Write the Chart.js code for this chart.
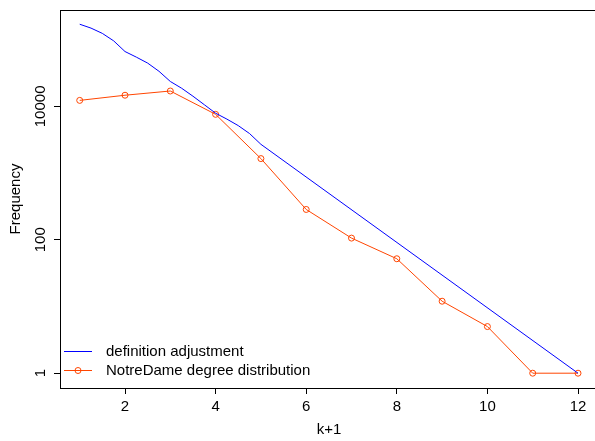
<!DOCTYPE html>
<html>
<head>
<meta charset="utf-8">
<script src="https://cdn.jsdelivr.net/npm/chart.js@4"></script>
<style>
  html, body { margin: 0; padding: 0; background: #fff; overflow: hidden; }
  canvas { display: block; }
</style>
</head>
<body>
<canvas id="chart" width="595" height="441"></canvas>
<script>
// degree distribution
const kValues = [1, 2, 3, 4, 5, 6, 7, 8, 9, 10, 11, 12]
const notreDame = [12300, 14700, 17000, 7600, 1650, 285, 106, 52, 12, 5, 1, 1]

// "definition adjustment" curve
const adjustK = [1, 1.25, 1.5, 1.75, 2, 2.25, 2.5, 2.75, 3, 3.25, 3.5, 3.75, 4, 4.25, 4.5, 4.75, 5, 12]
const adjustFreq = [170500, 149100, 124200, 96000, 66400, 54750, 44550, 33600, 23640, 18710, 14210, 10600, 7900, 6440, 5150, 3910, 2700, 1]

const xTicks = [2, 4, 6, 8, 10, 12]
const yTicks = [1, 100, 10000]

const FONT = '"Liberation Sans", Arial, Helvetica, sans-serif'

const framePlugin = {
    id: 'frame',
    afterDraw(chart) {
        const ctx = chart.ctx
        const a = chart.chartArea
        const y = chart.scales.y
        ctx.save()
        ctx.strokeStyle = '#000'
        ctx.lineWidth = 1
        ctx.strokeRect(a.left + 0.5, a.top + 0.5, a.right - a.left + 3, a.bottom - a.top)

        ctx.fillStyle = '#000'
        ctx.font = '15px ' + FONT
        ctx.textAlign = 'center'
        ctx.textBaseline = 'middle'
        // y tick labels, rotated like R
        yTicks.forEach(v => {
            const py = y.getPixelForValue(v)
            ctx.save()
            ctx.translate(a.left - 19, py)
            ctx.rotate(-Math.PI / 2)
            ctx.fillText(String(v), 0, 0)
            ctx.restore()
        })
        // axis titles
        ctx.fillText('k+1', 329, 430)
        ctx.save()
        ctx.translate(16, (a.top + a.bottom) / 2)
        ctx.rotate(-Math.PI / 2)
        ctx.fillText('Frequency', 0, 0)
        ctx.restore()

        // legend, bottom left, no box
        const rows = [
            { label: 'definition adjustment', ds: chart.data.datasets[0], marker: false },
            { label: 'NotreDame degree distribution', ds: chart.data.datasets[1], marker: true }
        ]
        ctx.textAlign = 'left'
        rows.forEach((r, i) => {
            const ly = a.bottom - 37 + i * 19
            ctx.strokeStyle = r.ds.borderColor
            ctx.beginPath()
            ctx.moveTo(a.left + 4, ly + 0.5)
            ctx.lineTo(a.left + 32, ly + 0.5)
            ctx.stroke()
            if (r.marker) {
                ctx.beginPath()
                ctx.arc(a.left + 18, ly + 0.5, 3, 0, Math.PI * 2)
                ctx.stroke()
            }
            ctx.fillStyle = '#000'
            ctx.fillText(r.label, a.left + 46, ly + 1)
        })
        ctx.restore()
    }
}

new Chart(document.getElementById('chart'), {
    type: 'line',
    data: {
        datasets: [
            {
                label: 'definition adjustment',
                data: adjustK.map((k, i) => ({ x: k, y: adjustFreq[i] })),
                borderColor: '#0000ff',
                borderWidth: 1,
                pointRadius: 0,
                tension: 0
            },
            {
                label: 'NotreDame degree distribution',
                data: kValues.map((k, i) => ({ x: k, y: notreDame[i] })),
                borderColor: '#ff4500',
                borderWidth: 1,
                pointRadius: 3,
                pointBorderWidth: 1,
                pointBorderColor: '#ff4500',
                pointBackgroundColor: 'rgba(0,0,0,0)',
                tension: 0
            }
        ]
    },
    options: {
        responsive: false,
        animation: false,
        layout: { autoPadding: false, padding: { top: 10, right: 0, left: 0, bottom: 0 } },
        plugins: { legend: { display: false }, tooltip: { enabled: false } },
        scales: {
            x: {
                type: 'linear',
                min: 0.565,
                max: 12.375,
                afterBuildTicks: s => { s.ticks = xTicks.map(v => ({ value: v })) },
                afterFit: s => { s.height = 53; s.paddingLeft = 0; s.paddingRight = 0 },
                border: { display: false },
                grid: { drawOnChartArea: false, drawTicks: true, tickLength: 6, tickColor: '#000' },
                ticks: { color: '#000', font: { size: 15, family: FONT }, padding: 4, maxRotation: 0 }
            },
            y: {
                type: 'logarithmic',
                min: 0.624,
                max: 278600,
                afterBuildTicks: s => { s.ticks = yTicks.map(v => ({ value: v })) },
                afterFit: s => { s.width = 60; s.paddingTop = 0; s.paddingBottom = 0 },
                border: { display: false },
                grid: { drawOnChartArea: false, drawTicks: true, tickLength: 6, tickColor: '#000' },
                ticks: { color: 'rgba(0,0,0,0)', font: { size: 15, family: FONT } }
            }
        }
    },
    plugins: [framePlugin]
})
</script>
</body>
</html>
